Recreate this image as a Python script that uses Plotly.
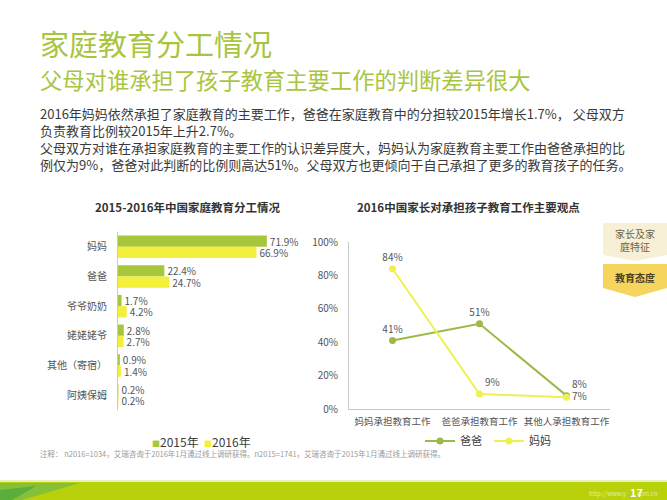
import plotly.graph_objects as go

W, H = 667, 500


def px(x):
    return x / W


def py(y):
    return 1 - y / H


# ---------------- data ----------------
bar_categories = ["妈妈", "爸爸", "爷爷奶奶", "姥姥姥爷", "其他（寄宿）", "阿姨保姆"]
share_2015 = [71.9, 22.4, 1.7, 2.8, 0.9, 0.2]
share_2016 = [66.9, 24.7, 4.2, 2.7, 1.4, 0.2]
bar_series_names = ["2015年", "2016年"]

line_categories = ["妈妈承担教育工作", "爸爸承担教育工作", "其他人承担教育工作"]
dad_view = [41, 51, 8]
mom_view = [84, 9, 7]
line_series_names = ["爸爸", "妈妈"]
y_ticks = [0, 20, 40, 60, 80, 100]

# ---------------- styles ----------------
FONT = "Noto Sans CJK SC"
TITLE_GREEN = "#a8c540"
BAR_GREEN = "#a6c73c"
BAR_YELLOW = "#f3ef3a"
LINE_GREEN = "#9cb94a"
LINE_YELLOW = "#eef150"
AXIS_COLOR = "#c9c9c9"
LABEL_COLOR = "#555555"

fig = go.Figure()

for name, vals, color in [(bar_series_names[0], share_2015, BAR_GREEN),
                          (bar_series_names[1], share_2016, BAR_YELLOW)]:
    fig.add_trace(go.Bar(
        y=bar_categories, x=vals, name=name, orientation="h",
        marker=dict(color=color, line=dict(width=0)),
        text=[f"{v:.1f}%" for v in vals], textposition="outside", constraintext="none",
        textfont=dict(family=FONT, size=10, color=LABEL_COLOR),
        cliponaxis=False, xaxis="x", yaxis="y", showlegend=False, hoverinfo="skip",
    ))

fig.add_trace(go.Scatter(
    x=line_categories, y=dad_view, name=line_series_names[0],
    mode="lines+markers+text",
    line=dict(color=LINE_GREEN, width=2),
    marker=dict(color=LINE_GREEN, size=7),
    text=[f"{v}%" for v in dad_view],
    textposition=["top center", "top center", "top right"],
    textfont=dict(family=FONT, size=10, color=LABEL_COLOR),
    cliponaxis=False, xaxis="x2", yaxis="y2", legend="legend2", hoverinfo="skip",
))
fig.add_trace(go.Scatter(
    x=line_categories, y=mom_view, name=line_series_names[1],
    mode="lines+markers+text",
    line=dict(color=LINE_YELLOW, width=2),
    marker=dict(color=LINE_YELLOW, size=7),
    text=[f"{v}%" for v in mom_view],
    textposition=["top center", "top right", "middle right"],
    textfont=dict(family=FONT, size=10, color=LABEL_COLOR),
    cliponaxis=False, xaxis="x2", yaxis="y2", legend="legend2", hoverinfo="skip",
))

bar_legend_text = (f"<span style='color:{BAR_GREEN};font-size:8px'>■</span>{bar_series_names[0]}  "
                   f"<span style='color:{BAR_YELLOW};font-size:8px'>■</span>{bar_series_names[1]}")

annotations = [
    dict(text="家庭教育分工情况", x=px(38), y=py(43), xanchor="left", yanchor="middle",
         font=dict(family=FONT, size=29, color=TITLE_GREEN)),
    dict(text="父母对谁承担了孩子教育主要工作的判断差异很大", x=px(38), y=py(79),
         xanchor="left", yanchor="middle", font=dict(family=FONT, size=22.3, color=TITLE_GREEN)),
    dict(text=("2016年妈妈依然承担了家庭教育的主要工作，爸爸在家庭教育中的分担较2015年增长1.7%， 父母双方<br>"
               "负责教育比例较2015年上升2.7%。<br>"
               "父母双方对谁在承担家庭教育的主要工作的认识差异度大，妈妈认为家庭教育主要工作由爸爸承担的比<br>"
               "例仅为9%，爸爸对此判断的比例则高达51%。父母双方也更倾向于自己承担了更多的教育孩子的任务。"),
         x=px(38), y=py(102), xanchor="left", yanchor="top", align="left",
         font=dict(family=FONT, size=13, color="#3a3a3a")),
    dict(text="<b>2015-2016年中国家庭教育分工情况</b>", x=px(188), y=py(207),
         xanchor="center", yanchor="middle", font=dict(family=FONT, size=11.5, color="#333333")),
    dict(text="<b>2016中国家长对承担孩子教育工作主要观点</b>", x=px(468), y=py(207),
         xanchor="center", yanchor="middle", font=dict(family=FONT, size=11.5, color="#333333")),
    dict(text=bar_legend_text, x=px(150), y=py(441), xanchor="left", yanchor="middle",
         font=dict(family=FONT, size=12, color="#404040")),
    dict(text="注释： n2016=1034，艾瑞咨询于2016年1月通过线上调研获得。n2015=1741，艾瑞咨询于2015年1月通过线上调研获得。",
         x=px(38), y=py(453), xanchor="left", yanchor="middle",
         font=dict(family=FONT, size=7.5, color="#9a9a9a")),
    dict(text="家长及家<br>庭特征", x=px(635), y=py(240), xanchor="center", yanchor="middle",
         font=dict(family=FONT, size=10, color="#6e6248")),
    dict(text="<b>教育态度</b>", x=px(635), y=py(277), xanchor="center", yanchor="middle",
         font=dict(family=FONT, size=10, color="#4a3f22")),
    dict(text="http://www.y       .com.cn", x=px(660), y=py(493), xanchor="right", yanchor="middle",
         font=dict(family=FONT, size=6, color="#e3edab")),
    dict(text="<b>17</b>", x=px(636), y=py(492), xanchor="center", yanchor="middle",
         font=dict(family=FONT, size=11, color="#ffffff")),
]
for a in annotations:
    a.update(xref="paper", yref="paper", showarrow=False)


def poly(points):
    return "M " + " L ".join(f"{px(x):.5f},{py(y):.5f}" for x, y in points) + " Z"


shapes = [
    dict(type="path", path=poly([(603, 223), (667, 223), (667, 255), (635, 261), (603, 255)]),
         fillcolor="#f7f0d7", line=dict(width=0)),
    dict(type="path", path=poly([(603, 264), (667, 264), (667, 288), (635, 297), (603, 288)]),
         fillcolor="#f6d55e", line=dict(width=0)),
    dict(type="rect", x0=0, x1=1, y0=py(482), y1=py(480), fillcolor="#e6efbf", line=dict(width=0)),
    dict(type="rect", x0=0, x1=1, y0=0, y1=py(482), fillcolor="#b9d10b", line=dict(width=0)),
    dict(type="path", path=poly([(0, 483), (80, 483), (22, 500), (0, 500)]),
         fillcolor="#86bf38", line=dict(width=0)),
    dict(type="path", path=poly([(0, 490), (36, 486), (12, 500), (0, 500)]),
         fillcolor="#5aae3c", line=dict(width=0)),
]
for s in shapes:
    s.update(xref="paper", yref="paper", layer="below")

fig.update_layout(
    width=W, height=H, autosize=False,
    margin=dict(l=0, r=0, t=0, b=0, pad=0),
    paper_bgcolor="white", plot_bgcolor="rgba(0,0,0,0)",
    font=dict(family=FONT, color=LABEL_COLOR),
    barmode="group", bargap=0.24, bargroupgap=0,
    xaxis=dict(domain=[px(118), px(325)], range=[0, 100], visible=False, anchor="y",
               fixedrange=True),
    yaxis=dict(domain=[py(410), py(232)], type="category", categoryorder="array",
               categoryarray=bar_categories, range=[5.5, -0.5], anchor="x",
               showline=True, linecolor=AXIS_COLOR, linewidth=1, ticks="", showgrid=False,
               zeroline=False, ticklabelstandoff=8, automargin=False,
               tickfont=dict(family=FONT, size=10, color=LABEL_COLOR), fixedrange=True),
    xaxis2=dict(domain=[px(349), px(610)], type="category", categoryorder="array",
                categoryarray=line_categories, range=[-0.5, 2.5], anchor="y2",
                showline=True, linecolor=AXIS_COLOR, linewidth=1, ticks="", showgrid=False,
                zeroline=False, ticklabelstandoff=4, automargin=False, tickangle=0,
                tickfont=dict(family=FONT, size=9.5, color=LABEL_COLOR), fixedrange=True),
    yaxis2=dict(domain=[py(409), py(242)], range=[0, 100], tickmode="array", tickvals=y_ticks,
                ticktext=[f"{v}%" for v in y_ticks],
                anchor="x2", showline=True, linecolor=AXIS_COLOR, linewidth=1, ticks="",
                showgrid=False, zeroline=False, ticklabelstandoff=8, automargin=False,
                tickfont=dict(family=FONT, size=10, color=LABEL_COLOR), fixedrange=True),
    legend2=dict(orientation="h", x=px(420), y=py(441), xanchor="left", yanchor="middle",
                 font=dict(family=FONT, size=11, color="#404040"), bgcolor="rgba(0,0,0,0)",
                 itemwidth=30, tracegroupgap=0, entrywidth=24, entrywidthmode="pixels"),
    annotations=annotations,
    shapes=shapes,
    showlegend=True,
)

fig.write_html("out.html", config={"displayModeBar": False, "staticPlot": True},
               post_script="document.body.style.margin='0';document.body.style.overflow='hidden';")
